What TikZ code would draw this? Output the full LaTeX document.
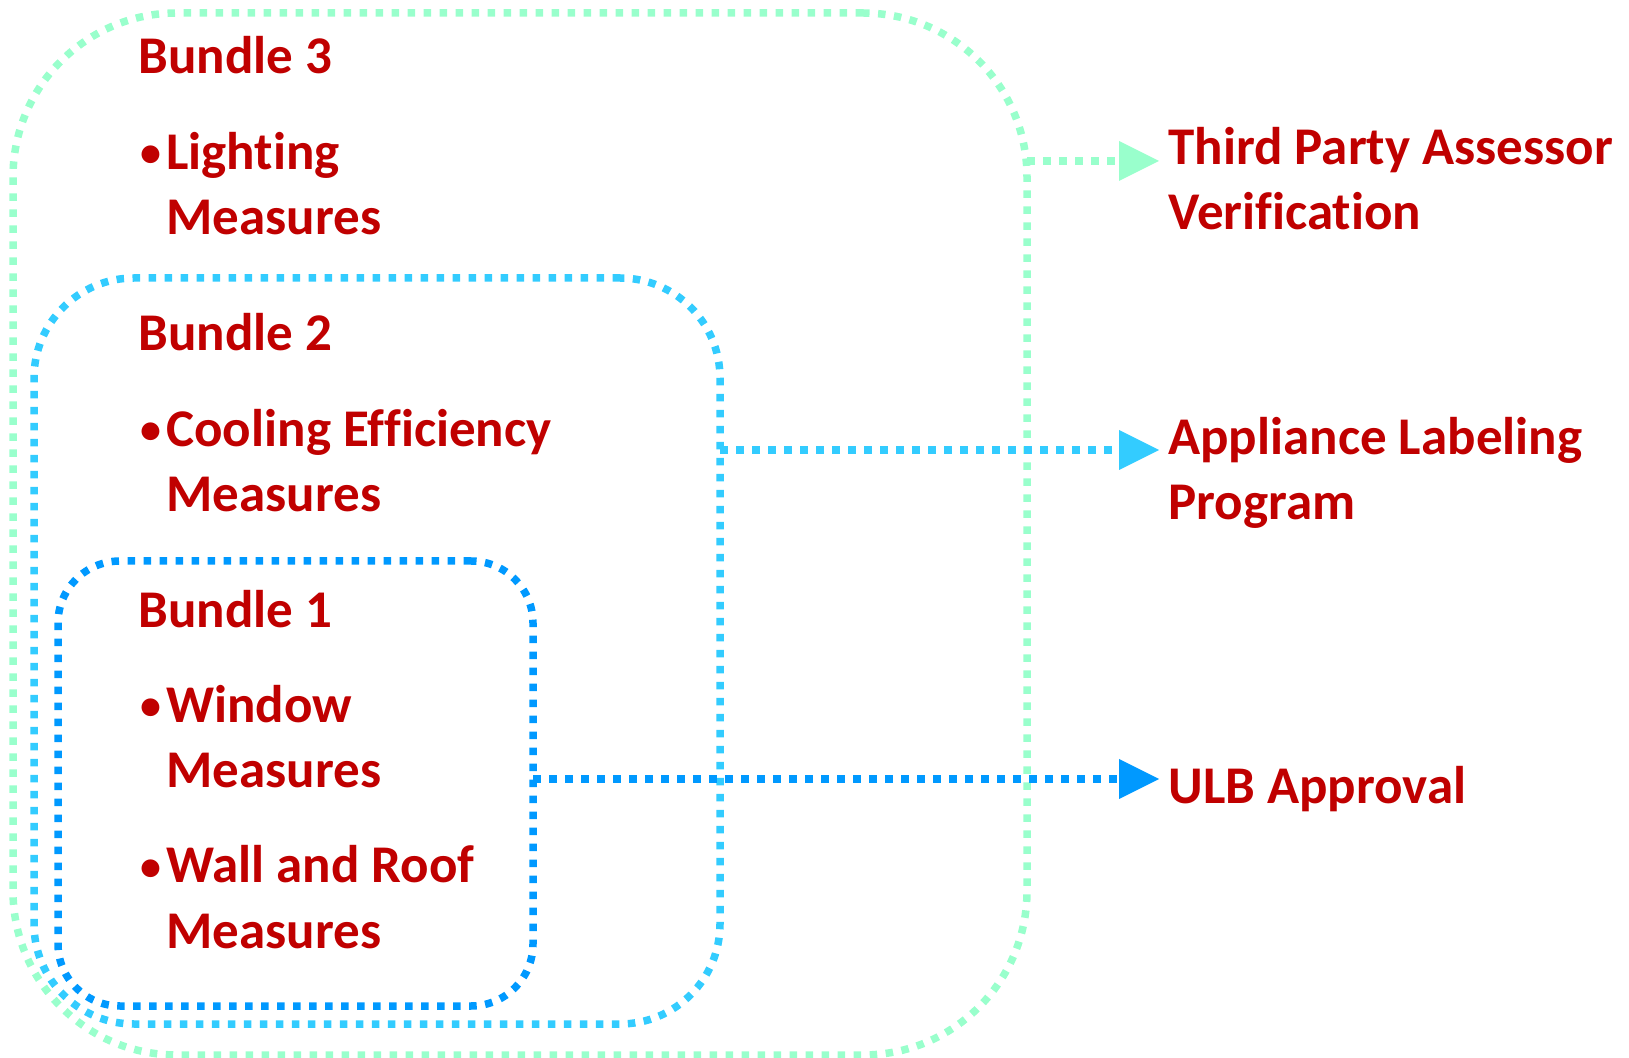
\documentclass[tikz,border=0pt]{standalone}
\usepackage{fontspec}
\setmainfont[Ligatures=NoCommon]{Carlito}
\usetikzlibrary{arrows.meta}
\definecolor{tred}{HTML}{C00000}
\definecolor{cgreen}{HTML}{99FFCC}
\definecolor{ccyan}{HTML}{33CCFF}
\definecolor{cblue}{HTML}{0099FF}
\newcommand{\twolines}[2]{\vtop{\hbox{#1}\hbox{#2}}}
\newcommand{\bul}{\llap{\raisebox{1.5pt}{\fontsize{21}{21}\selectfont •}\hspace{2.5pt}}}
\begin{document}
\begin{tikzpicture}[x=0.5pt,y=-0.5pt,
  dots/.style={line width=3.75pt, dash pattern=on 3.75pt off 4.25pt, line cap=butt},
  bundlebox/.style={rectangle, dots, inner sep=0pt, outer sep=0pt},
  txt/.style={text=tred, font=\bfseries\fontsize{26.5}{32.5}\selectfont, inner sep=0pt, anchor=base west},
  arr/.style={dots, -{Triangle[length=20pt,width=20pt,line width=0pt]}}]
\useasboundingbox (0,0) rectangle (1629,1058);
% boxes
\node[bundlebox, draw=cgreen, rounded corners=82pt, minimum width=507pt, minimum height=521pt] (b3) at (520,534) {};
\node[bundlebox, draw=ccyan, rounded corners=50pt, minimum width=343pt, minimum height=373pt] (b2) at (377,651) {};
\node[bundlebox, draw=cblue, rounded corners=31pt, minimum width=237.5pt, minimum height=222.5pt] (b1) at (295.5,783.5) {};
% arrow tips
\coordinate (t3) at (1159,161);
\coordinate (t2) at (1159,450);
\coordinate (t1) at (1159,779);
\draw[arr, draw=cgreen] (b3.east |- t3) -- (t3);
\draw[arr, draw=ccyan] (b2.east |- t2) -- (t2);
\draw[arr, draw=cblue] (b1.east |- t1) -- (t1);
% texts
\node[txt] (h3) at (138,74) {Bundle 3};
\node[txt] (i3) at (166,170) {\twolines{\bul Lighting}{Measures}};
\node[txt] (h2) at (138,351) {Bundle 2};
\node[txt] (i2) at (166,447) {\twolines{\bul Cooling Efficiency}{Measures}};
\node[txt] (h1) at (138,628) {Bundle 1};
\node[txt] (i1a) at (166,723) {\twolines{\bul Window}{Measures}};
\node[txt] (i1b) at (166,883) {\twolines{\bul Wall and Roof}{Measures}};
\node[txt] (l3) at (1168,165) {\twolines{Third Party Assessor}{Verification}};
\node[txt] (l2) at (1168,455) {\twolines{Appliance Labeling}{Program}};
\node[txt] (l1) at (1168,804) {ULB Approval};
\end{tikzpicture}
\end{document}
